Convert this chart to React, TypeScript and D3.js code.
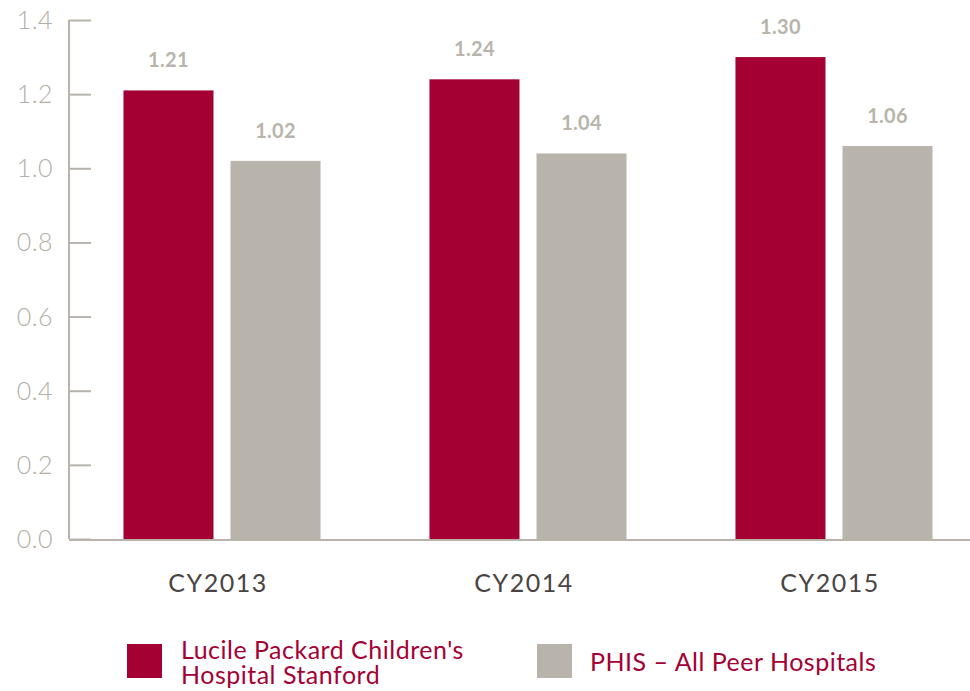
import React, { useEffect, useRef } from 'react';
import * as d3 from 'd3';

const categories = ['CY2013', 'CY2014', 'CY2015'];
const seriesNames = ["Lucile Packard Children's Hospital Stanford", 'PHIS – All Peer Hospitals'];
const lpchValues = [1.21, 1.24, 1.30];
const phisValues = [1.02, 1.04, 1.06];
const yTicks = [0, 0.2, 0.4, 0.6, 0.8, 1.0, 1.2, 1.4];

const colors = ['#a50034', '#b8b4ac'];
const FONT = 'Lato, "Open Sans", sans-serif';

const App = () => {
  const ref = useRef<SVGSVGElement>(null);

  useEffect(() => {
    const width = 970;
    const height = 691;
    const margin = { top: 20, right: 0, bottom: 152, left: 69 };
    const innerW = width - margin.left - margin.right;
    const innerH = height - margin.top - margin.bottom;

    const svg = d3.select(ref.current);
    svg.selectAll('*').remove();

    const g = svg.append('g').attr('transform', `translate(${margin.left},${margin.top})`);

    const x0 = d3.scaleBand()
      .domain(categories)
      .range([0, 918])
      .paddingInner(0.356)
      .paddingOuter(0.178);

    const x1 = d3.scaleBand()
      .domain(['0', '1'])
      .range([0, x0.bandwidth()])
      .paddingInner(0.159);

    const y = d3.scaleLinear().domain([0, 1.4]).range([innerH, 0]);

    // y axis
    const yAxis = g.append('g')
      .call(d3.axisLeft(y).tickValues(yTicks).tickSize(-22).tickPadding(16).tickFormat(d3.format('.1f')));
    yAxis.select('.domain').attr('stroke', '#b8b4ac').attr('stroke-width', 2).attr('d', `M0,0V${innerH}`);
    yAxis.selectAll('.tick line').attr('stroke', '#b8b4ac').attr('stroke-width', 2);
    yAxis.selectAll('.tick text')
      .attr('fill', '#b3aea6')
      .attr('font-family', FONT)
      .attr('font-weight', 300)
      .attr('font-size', 25)
      .attr('letter-spacing', 0.5)
      .attr('dy', '0.34em');

    // x axis line
    g.append('line')
      .attr('x1', 0).attr('x2', innerW)
      .attr('y1', innerH + 1).attr('y2', innerH + 1)
      .attr('stroke', '#b8b4ac').attr('stroke-width', 2);

    const groups = g.selectAll('.grp')
      .data(categories)
      .join('g')
      .attr('transform', d => `translate(${x0(d)},0)`);

    const rows = categories.map((c, i) => [lpchValues[i], phisValues[i]]);

    groups.selectAll('rect')
      .data((d, i) => rows[i].map((v, k) => ({ v, k })))
      .join('rect')
      .attr('x', d => x1(String(d.k))!)
      .attr('width', x1.bandwidth())
      .attr('y', d => y(d.v))
      .attr('height', d => innerH - y(d.v))
      .attr('fill', d => colors[d.k]);

    groups.selectAll('text.val')
      .data((d, i) => rows[i].map((v, k) => ({ v, k })))
      .join('text')
      .attr('class', 'val')
      .attr('x', d => x1(String(d.k))! + x1.bandwidth() / 2)
      .attr('y', d => y(d.v) - 23)
      .attr('text-anchor', 'middle')
      .attr('fill', '#b8b4ac')
      .attr('font-family', FONT)
      .attr('font-weight', 'bold')
      .attr('font-size', 20)
      .attr('letter-spacing', 0.3)
      .text(d => d.v.toFixed(2));

    groups.append('text')
      .attr('x', x0.bandwidth() / 2 - 4)
      .attr('y', innerH + 53)
      .attr('text-anchor', 'middle')
      .attr('fill', '#4a4443')
      .attr('font-family', FONT)
      .attr('font-size', 25)
      .attr('letter-spacing', 1.5)
      .text(d => d);

    // legend
    const legend = svg.append('g');
    legend.append('rect').attr('x', 127).attr('y', 644).attr('width', 35).attr('height', 34).attr('fill', colors[0]);
    const t1 = legend.append('text')
      .attr('fill', colors[0]).attr('font-family', FONT).attr('font-size', 25).attr('letter-spacing', 0.5);
    t1.append('tspan').attr('x', 181).attr('y', 659).text("Lucile Packard Children's");
    t1.append('tspan').attr('x', 181).attr('y', 684).text('Hospital Stanford');

    legend.append('rect').attr('x', 537).attr('y', 644).attr('width', 35).attr('height', 34).attr('fill', colors[1]);
    legend.append('text')
      .attr('x', 590).attr('y', 671)
      .attr('fill', colors[0]).attr('font-family', FONT).attr('font-size', 25).attr('letter-spacing', 0.5)
      .text(seriesNames[1]);
  }, []);

  return (
    <svg ref={ref} width={970} height={691}
      style={{ position: 'absolute', left: 0, top: 0, background: '#fff' }} />
  );
};

export default App;
